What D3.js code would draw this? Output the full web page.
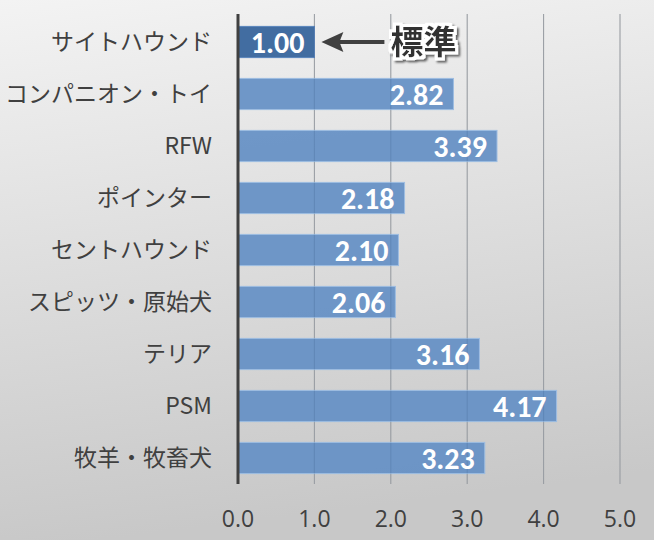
<!DOCTYPE html>
<html><head><meta charset="utf-8">
<script src="https://cdn.jsdelivr.net/npm/d3@7"></script>
<style>body{margin:0;}svg{display:block;}</style>
</head><body>
<script>
const categories = ["サイトハウンド","コンパニオン・トイ","RFW","ポインター","セントハウンド","スピッツ・原始犬","テリア","PSM","牧羊・牧畜犬"];
const values = [1.00, 2.82, 3.39, 2.18, 2.10, 2.06, 3.16, 4.17, 3.23];
const xTicks = [0, 1, 2, 3, 4, 5];
const highlight = "サイトハウンド";
const annotation = "標準";

const W = 654, H = 540;
const svg = d3.select("body").append("svg").attr("width", W).attr("height", H);
const defs = svg.append("defs");
const g = defs.append("linearGradient").attr("id","bg").attr("x1","0").attr("y1","0").attr("x2","0.15").attr("y2","1");
g.append("stop").attr("offset","0").attr("stop-color","#f3f3f3");
g.append("stop").attr("offset","1").attr("stop-color","#c8c8c8");
svg.append("rect").attr("width",W).attr("height",H).attr("fill","url(#bg)");

const f = defs.append("filter").attr("id","halo").attr("x","-20%").attr("y","-30%").attr("width","150%").attr("height","170%");
f.append("feMorphology").attr("in","SourceAlpha").attr("operator","dilate").attr("radius","2.5").attr("result","d");
f.append("feOffset").attr("in","d").attr("dx","2").attr("dy","2").attr("result","dOff");
f.append("feFlood").attr("flood-color","#000000").attr("flood-opacity","0.6").attr("result","k");
f.append("feComposite").attr("in","k").attr("in2","dOff").attr("operator","in").attr("result","shadow");
f.append("feGaussianBlur").attr("in","shadow").attr("stdDeviation","0.8").attr("result","shadowB");
f.append("feFlood").attr("flood-color","#ffffff").attr("result","w");
f.append("feComposite").attr("in","w").attr("in2","d").attr("operator","in").attr("result","outline");
const m = f.append("feMerge");
m.append("feMergeNode").attr("in","shadowB");
m.append("feMergeNode").attr("in","outline");
m.append("feMergeNode").attr("in","SourceGraphic");

const x = d3.scaleLinear().domain([0,5]).range([238, 620]);
const y = d3.scaleBand().domain(categories).range([16, 484]).paddingInner(0.4).paddingOuter(0.2);

// gridlines
svg.append("g").selectAll("line").data(xTicks.filter(d=>d>0)).join("line")
  .attr("x1",d=>x(d)).attr("x2",d=>x(d)).attr("y1",14).attr("y2",484)
  .attr("stroke","#a9a9a9").attr("stroke-width",1);

// bars
svg.append("g").selectAll("rect").data(categories).join("rect")
  .attr("x", x(0)).attr("y", d=>y(d))
  .attr("width", (d,i)=>x(values[i])-x(0)).attr("height", y.bandwidth())
  .attr("fill", d=> d===highlight ? "#35639b" : "#6590c5")
  .attr("fill-opacity", 0.93)
  .attr("stroke", d=> d===highlight ? "#5a86bd" : "#9dbde2").attr("stroke-width",1);

// gridlines over bars (faint)
svg.append("g").selectAll("line").data(xTicks.filter(d=>d>0)).join("line")
  .attr("x1",d=>x(d)).attr("x2",d=>x(d)).attr("y1",14).attr("y2",484)
  .attr("stroke","#2a4a70").attr("stroke-opacity",0.15).attr("stroke-width",1);

// axis line
svg.append("line").attr("x1",x(0)).attr("x2",x(0)).attr("y1",14).attr("y2",484)
  .attr("stroke","#404040").attr("stroke-width",3);

// value labels
svg.append("g").selectAll("text").data(categories).join("text")
  .attr("x",(d,i)=>x(values[i])-10).attr("y",d=>y(d)+y.bandwidth()/2)
  .attr("dy","0.35em").attr("text-anchor","end")
  .attr("font-family","Carlito, Lato, 'Open Sans', sans-serif").attr("font-weight","bold")
  .attr("font-size",30).attr("fill","#ffffff")
  .text((d,i)=>values[i].toFixed(2));

// category labels
svg.append("g").selectAll("text").data(categories).join("text")
  .attr("x",212).attr("y",d=>y(d)+y.bandwidth()/2)
  .attr("dy","0.36em").attr("text-anchor","end")
  .attr("font-family","'Noto Sans CJK JP', sans-serif")
  .attr("font-size",23).attr("fill","#404040")
  .text(d=>d);

// x tick labels
svg.append("g").selectAll("text").data(xTicks).join("text")
  .attr("x",d=>x(d)).attr("y",519).attr("dy","0.36em").attr("text-anchor","middle")
  .attr("font-family","'Open Sans', 'Liberation Sans', sans-serif")
  .attr("font-size",23).attr("fill","#404040")
  .text(d=>d.toFixed(1));

// annotation arrow
const ay = y(highlight)+y.bandwidth()/2;
const ax0 = x(values[0]) + 7;
svg.append("line").attr("x1",ax0+16).attr("x2",ax0+63).attr("y1",ay).attr("y2",ay)
  .attr("stroke","#404040").attr("stroke-width",4);
svg.append("path").attr("d",`M${ax0},${ay} L${ax0+22},${ay-10} L${ax0+18},${ay} L${ax0+22},${ay+10} Z`)
  .attr("fill","#404040");
svg.append("text").attr("x",ax0+69).attr("y",ay).attr("dy","0.36em")
  .attr("font-family","'Noto Sans CJK JP', sans-serif").attr("font-weight","bold")
  .attr("font-size",33).attr("fill","#333333").attr("filter","url(#halo)")
  .text(annotation);
</script>
</body></html>
